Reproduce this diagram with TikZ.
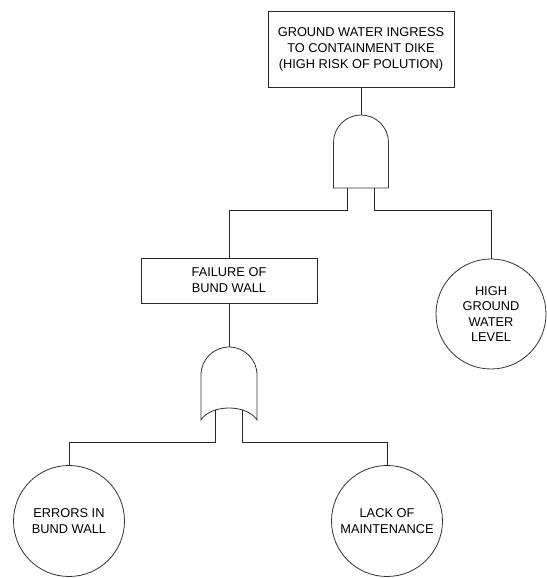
\documentclass[tikz,border=0pt]{standalone}
\usepackage{fontspec}
\setmainfont{Liberation Sans}
\begin{document}
\begin{tikzpicture}[x=1pt,y=1pt,
  lbl/.style={font=\fontsize{12.8}{16}\selectfont, align=center, text=black},
  evbox/.style={lbl, draw=black!85, line width=0.8pt, inner sep=0pt},
  basic/.style={lbl, circle, draw=black!80, line width=0.8pt, inner sep=0pt},
  gate/.style={draw=black!80, line width=0.8pt, fill=white},
  wire/.style={draw=black!85, line width=0.8pt}
]
\useasboundingbox (0,0) rectangle (546,578);
% events
\node[evbox, minimum width=186pt, minimum height=76pt] (top) at (361,529)
  {GROUND WATER INGRESS\\TO CONTAINMENT DIKE\\(HIGH RISK OF POLUTION)};
\node[evbox, minimum width=176pt, minimum height=45pt] (fail) at (229,297.5)
  {FAILURE OF\\BUND WALL};
\node[basic, minimum size=110pt, font=\fontsize{12.8}{15.5}\selectfont] (hgwl) at (491,264)
  {HIGH\\GROUND\\WATER\\LEVEL};
\node[basic, minimum size=111pt] (err) at (69,57) {ERRORS IN\\BUND WALL};
\node[basic, minimum size=111pt] (lack) at (387,57) {LACK OF\\MAINTENANCE};
% AND gate
\draw[gate] (333.5,390) -- (333.5,435.5) arc[start angle=180, end angle=0, radius=27.5]
  -- (388.5,390) -- cycle;
\coordinate (andTop) at (361,463);
\coordinate (andL) at (347.5,390);
\coordinate (andR) at (374.5,390);
\coordinate (andLj) at (347.5,368);
\coordinate (andRj) at (374.5,368);
% OR gate
\draw[gate] (257,158) -- (257,203) arc[start angle=0, end angle=180, radius=28]
  -- (201,158) .. controls (211,174) and (247,174) .. cycle;
\coordinate (orTop) at (229,231);
\coordinate (orL) at (215.5,168);
\coordinate (orR) at (242.5,168);
\coordinate (orLj) at (215.5,136);
\coordinate (orRj) at (242.5,136);
% connectors
\draw[wire] (top.south) -- (andTop);
\draw[wire] (andL) -- (andLj) -| (fail.north);
\draw[wire] (andR) -- (andRj) -| (hgwl.north);
\draw[wire] (fail.south) -- (orTop);
\draw[wire] (orL) -- (orLj) -| (err.north);
\draw[wire] (orR) -- (orRj) -| (lack.north);
\end{tikzpicture}
\end{document}
